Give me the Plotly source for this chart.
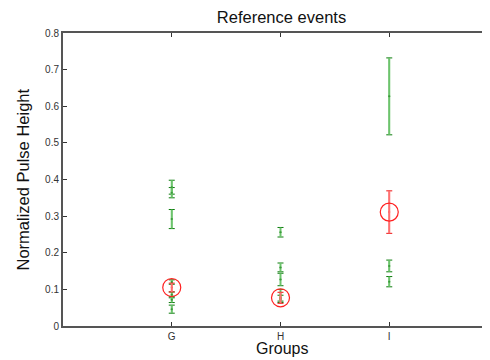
import plotly.graph_objects as go

# ---- data ----
groups = ["G", "H", "I"]

green_x = ["G", "G", "G", "G", "G", "G", "G", "H", "H", "H", "H", "H", "I", "I", "I"]
green_y = [0.379, 0.364, 0.292, 0.120, 0.085, 0.072, 0.046,
           0.256, 0.160, 0.127, 0.084, 0.074,
           0.627, 0.164, 0.121]
green_err = [0.019, 0.014, 0.026, 0.006, 0.008, 0.008, 0.011,
             0.013, 0.012, 0.017, 0.016, 0.010,
             0.105, 0.016, 0.014]

red_x = ["G", "H", "I"]
red_y = [0.105, 0.077, 0.311]
red_err = [0.012, 0.015, 0.058]

y_ticks = [0, 0.1, 0.2, 0.3, 0.4, 0.5, 0.6, 0.7, 0.8]
y_ticktext = ["0", "0.1", "0.2", "0.3", "0.4", "0.5", "0.6", "0.7", "0.8"]

FONT = "Liberation Sans, Arial, Helvetica, sans-serif"

# page body has an 8px margin, so the figure is laid out 8px up/left
PL, PT, PB = 55, 25, 42
PW, PH = 490 - PL, 360 - PT - PB

fig = go.Figure()

# green: dark caps underneath, light line on top
fig.add_trace(go.Scatter(
    x=green_x, y=green_y, mode="markers",
    marker=dict(size=2, color="#1a8a1a"),
    error_y=dict(type="data", array=green_err, color="#0a7a0a", thickness=1, width=3),
    showlegend=False, hoverinfo="skip"))
fig.add_trace(go.Scatter(
    x=green_x, y=green_y, mode="markers",
    marker=dict(size=2, color="#3a9a3a"),
    error_y=dict(type="data", array=green_err, color="#6cc46c", thickness=2, width=0),
    showlegend=False))

# red
fig.add_trace(go.Scatter(
    x=red_x, y=red_y, mode="markers",
    marker=dict(size=2, color="#ee2222"),
    error_y=dict(type="data", array=red_err, color="#ee1111", thickness=1, width=3),
    showlegend=False, hoverinfo="skip"))
fig.add_trace(go.Scatter(
    x=red_x, y=red_y, mode="markers",
    marker=dict(size=18, symbol="circle-open", color="#ff2020", line=dict(width=1.2)),
    error_y=dict(type="data", array=red_err, color="#ff7070", thickness=2, width=0),
    showlegend=False))

fig.update_layout(
    width=490, height=360,
    margin=dict(l=PL, r=0, t=PT, b=PB, autoexpand=False),
    paper_bgcolor="white", plot_bgcolor="white",
    font=dict(family=FONT, color="#222"),
    title=dict(text="Reference events", x=273.5 / 490, xanchor="center",
               y=1 - 9 / 360, yanchor="middle",
               font=dict(size=16.5, color="#111", family=FONT)),
    annotations=[
        dict(text="Groups", xref="paper", yref="paper",
             x=(273.5 - PL) / PW, y=-(340 - (PT + PH)) / PH, xanchor="center", yanchor="middle",
             showarrow=False, font=dict(size=16, color="#111", family=FONT)),
        dict(text="Normalized Pulse Height", xref="paper", yref="paper",
             x=(14 - PL) / PW, y=0.5, xanchor="center", yanchor="middle", textangle=-90,
             showarrow=False, font=dict(size=16.5, color="#111", family=FONT)),
    ],
)

fig.update_xaxes(
    type="category", categoryorder="array", categoryarray=groups,
    range=[-1, 3.0], automargin=False,
    showgrid=False, zeroline=False,
    showline=True, linecolor="#555", linewidth=2, mirror="ticks",
    ticks="inside", ticklen=4, tickcolor="#333",
    tickfont=dict(size=10, color="#333"),
)
fig.update_yaxes(
    range=[0, 0.8], tickvals=y_ticks, ticktext=y_ticktext, automargin=False,
    showgrid=False, zeroline=False,
    showline=True, linecolor="#555", linewidth=2, mirror=False,
    ticks="inside", ticklen=4, tickcolor="#333",
    tickfont=dict(size=10, color="#333"),
)

fig.write_html("out.html")
